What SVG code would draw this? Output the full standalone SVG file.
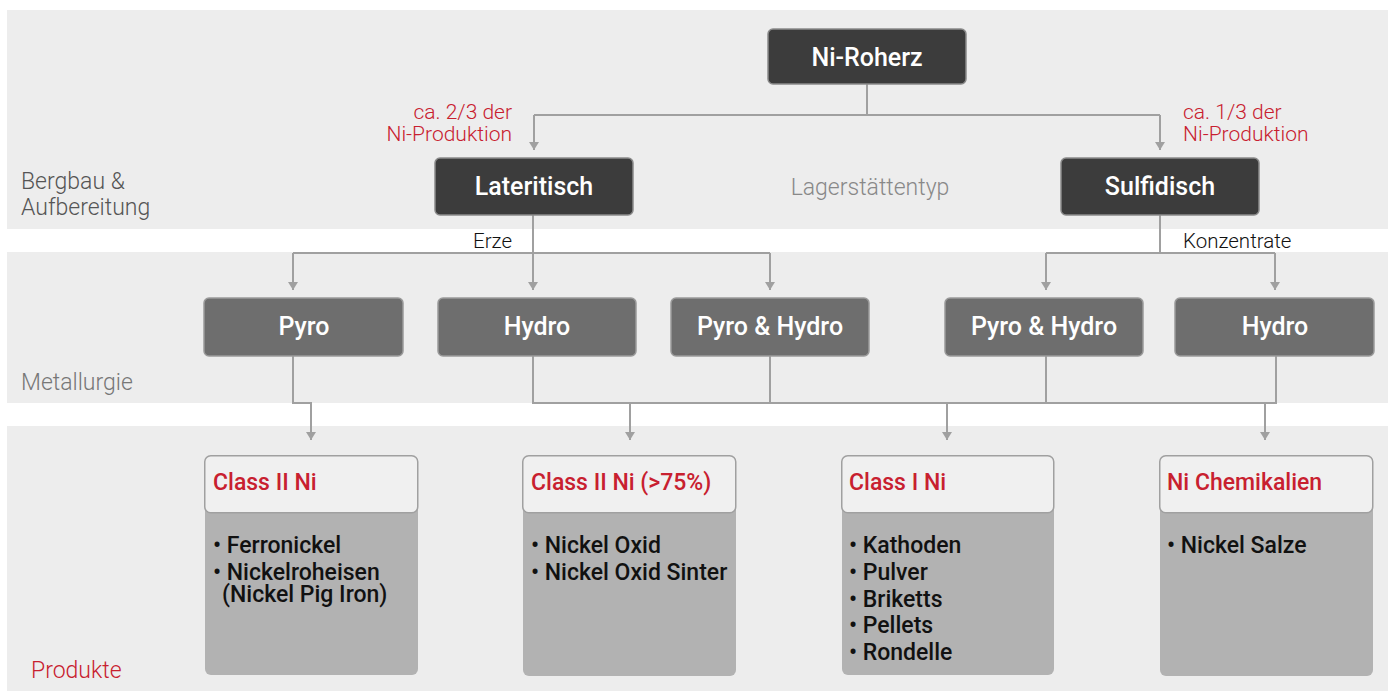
<svg xmlns="http://www.w3.org/2000/svg" width="1388" height="691" viewBox="0 0 1388 691">
<defs>
<style>
.band{fill:#ededed}
.dark{fill:#3c3c3c;stroke:#8a8a8a;stroke-width:1.5}
.mid{fill:#6e6e6e;stroke:#9a9a9a;stroke-width:1.5}
.hdr{fill:#f0f0f0;stroke:#a0a0a0;stroke-width:1.5}
.body{fill:#b2b2b2}
.nt{font-family:Roboto,"Liberation Sans",sans-serif;font-size:25px;font-weight:500;fill:#fff;text-anchor:middle}
.lbl{font-family:Roboto,"Liberation Sans",sans-serif;font-weight:300}
.red{fill:#c8202f}
.ht{font-family:Roboto,"Liberation Sans",sans-serif;font-size:23px;font-weight:500;fill:#c8202f}
.it{font-family:Roboto,"Liberation Sans",sans-serif;font-size:23px;font-weight:500;fill:#111}
.c{fill:none;stroke:#a0a0a0;stroke-width:2}
</style>
<marker id="ar" viewBox="0 0 8 10" refX="8" refY="5" markerWidth="8" markerHeight="10" markerUnits="userSpaceOnUse" orient="auto">
<path d="M0,0 L8,5 L0,10 z" fill="#a0a0a0"/>
</marker>
</defs>
<rect width="1388" height="691" fill="#fff"/>
<rect class="band" x="7" y="10" width="1381" height="219"/>
<rect class="band" x="7" y="252" width="1381" height="151"/>
<rect class="band" x="7" y="426" width="1381" height="265"/>

<g id="labels">
<text class="lbl" x="21" y="189" font-size="23" fill="#555">Bergbau &amp;</text>
<text class="lbl" x="21" y="215" font-size="23" fill="#555">Aufbereitung</text>
<text class="lbl" x="21" y="390" font-size="23" fill="#777">Metallurgie</text>
<text class="lbl red" x="31" y="678" font-size="23">Produkte</text>
<text class="lbl" x="870" y="195" font-size="23" fill="#888" text-anchor="middle">Lagerstättentyp</text>
<text class="lbl red" x="512" y="119" font-size="21" text-anchor="end">ca. 2/3 der</text>
<text class="lbl red" x="512" y="141" font-size="21" text-anchor="end">Ni-Produktion</text>
<text class="lbl red" x="1183" y="119" font-size="21">ca. 1/3 der</text>
<text class="lbl red" x="1183" y="141" font-size="21">Ni-Produktion</text>
<text class="lbl" x="512" y="248" font-size="20.5" fill="#111" text-anchor="end">Erze</text>
<text class="lbl" x="1183" y="248" font-size="20.5" fill="#111">Konzentrate</text>
</g>

<g id="connectors">
<path class="c" d="M867,84 V115 M534,115 H1160" />
<path class="c" d="M534,115 V150" marker-end="url(#ar)"/>
<path class="c" d="M1160,115 V150" marker-end="url(#ar)"/>
<path class="c" d="M533,215 V253 M293,253 H770 M1160,215 V253 M1046,253 H1275"/>
<path class="c" d="M293,253 V290" marker-end="url(#ar)"/>
<path class="c" d="M533,253 V290" marker-end="url(#ar)"/>
<path class="c" d="M770,253 V290" marker-end="url(#ar)"/>
<path class="c" d="M1046,253 V290" marker-end="url(#ar)"/>
<path class="c" d="M1275,253 V290" marker-end="url(#ar)"/>
<path class="c" d="M293,356 V403 H311 V440" marker-end="url(#ar)"/>
<path class="c" d="M533,356 V403 H1276 V356 M770,356 V403 M1046,356 V403"/>
<path class="c" d="M630,403 V440" marker-end="url(#ar)"/>
<path class="c" d="M947,403 V440" marker-end="url(#ar)"/>
<path class="c" d="M1265,403 V440" marker-end="url(#ar)"/>
</g>

<g id="n-roherz"><rect class="dark" x="768" y="29" width="198" height="55" rx="5"/><text class="nt" x="867" y="66">Ni-Roherz</text></g>
<g id="n-lateritisch"><rect class="dark" x="435" y="158" width="198" height="57" rx="5"/><text class="nt" x="534" y="195">Lateritisch</text></g>
<g id="n-sulfidisch"><rect class="dark" x="1061" y="158" width="198" height="57" rx="5"/><text class="nt" x="1160" y="195">Sulfidisch</text></g>

<g id="m-pyro"><rect class="mid" x="204" y="298" width="199" height="58" rx="5"/><text class="nt" x="304" y="335">Pyro</text></g>
<g id="m-hydro1"><rect class="mid" x="438" y="298" width="198" height="58" rx="5"/><text class="nt" x="537" y="335">Hydro</text></g>
<g id="m-pyrohydro1"><rect class="mid" x="671" y="298" width="198" height="58" rx="5"/><text class="nt" x="770" y="335">Pyro &amp; Hydro</text></g>
<g id="m-pyrohydro2"><rect class="mid" x="945" y="298" width="198" height="58" rx="5"/><text class="nt" x="1044" y="335">Pyro &amp; Hydro</text></g>
<g id="m-hydro2"><rect class="mid" x="1175" y="298" width="199" height="58" rx="5"/><text class="nt" x="1275" y="335">Hydro</text></g>

<g id="p-class2">
<rect class="body" x="205" y="500" width="213" height="175" rx="6"/>
<rect class="hdr" x="204.75" y="455.75" width="213" height="57" rx="6"/>
<text class="ht" x="213" y="490">Class II Ni</text>
<text class="it" x="213" y="553">• Ferronickel</text>
<text class="it" x="213" y="580">• Nickelroheisen</text>
<text class="it" x="222" y="602">(Nickel Pig Iron)</text>
</g>
<g id="p-class2-75">
<rect class="body" x="523" y="500" width="213" height="176" rx="6"/>
<rect class="hdr" x="522.75" y="455.75" width="213" height="57" rx="6"/>
<text class="ht" x="531" y="490">Class II Ni (&gt;75%)</text>
<text class="it" x="531" y="553">• Nickel Oxid</text>
<text class="it" x="531" y="580">• Nickel Oxid Sinter</text>
</g>
<g id="p-class1">
<rect class="body" x="842" y="500" width="212" height="175" rx="6"/>
<rect class="hdr" x="841.75" y="455.75" width="212" height="57" rx="6"/>
<text class="ht" x="849" y="490">Class I Ni</text>
<text class="it" x="849" y="553">• Kathoden</text>
<text class="it" x="849" y="580">• Pulver</text>
<text class="it" x="849" y="607">• Briketts</text>
<text class="it" x="849" y="633">• Pellets</text>
<text class="it" x="849" y="660">• Rondelle</text>
</g>
<g id="p-chem">
<rect class="body" x="1160" y="500" width="213" height="176" rx="6"/>
<rect class="hdr" x="1159.75" y="455.75" width="213" height="57" rx="6"/>
<text class="ht" x="1167" y="490">Ni Chemikalien</text>
<text class="it" x="1167" y="553">• Nickel Salze</text>
</g>
</svg>
